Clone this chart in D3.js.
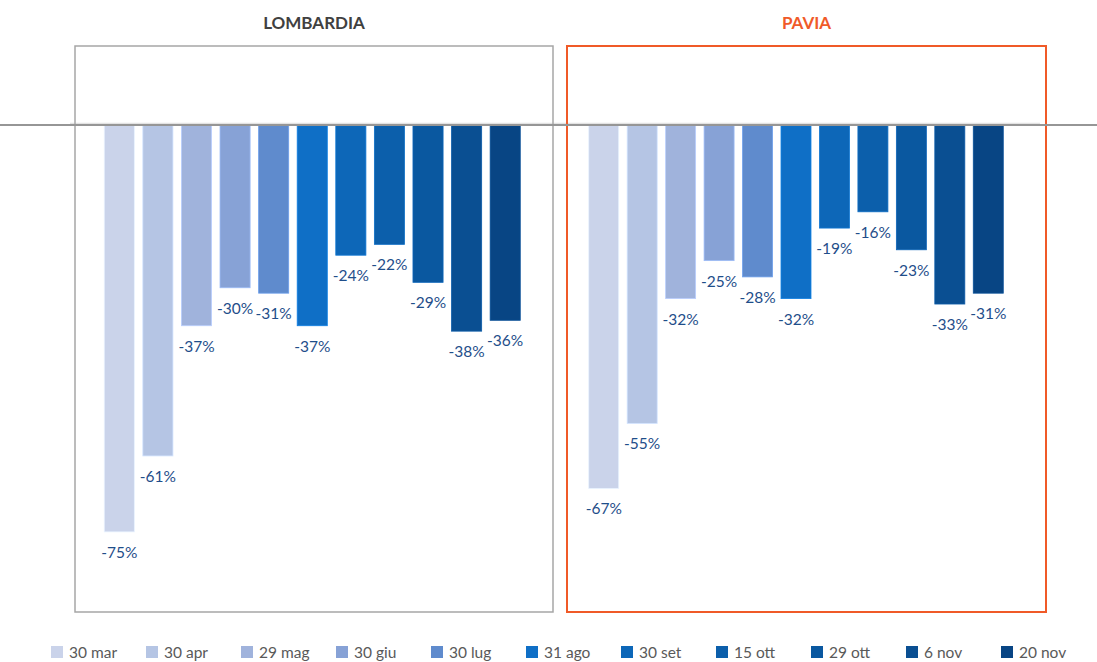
<!DOCTYPE html>
<html>
<head>
<meta charset="utf-8">
<script src="https://cdn.jsdelivr.net/npm/d3@7"></script>
<style>
  html, body { margin: 0; padding: 0; background: #fff; }
  svg { display: block; font-family: 'Source Sans Pro', Lato, 'Noto Sans', sans-serif; }
</style>
</head>
<body>
<svg class="canvas" width="1097" height="662"></svg>
<script>
'use strict'

const dates = ['30 mar', '30 apr', '29 mag', '30 giu', '30 lug', '31 ago', '30 set', '15 ott', '29 ott', '6 nov', '20 nov']
const colors = ['#cad3ea', '#b5c5e4', '#a0b3dc', '#87a2d6', '#5f8bcd', '#0f6fc6', '#0d67b8', '#0c5fab', '#0a58a0', '#0a4f92', '#084584']
const regions = ['LOMBARDIA', 'PAVIA']
const lombardia = [-75, -61, -37, -30, -31, -37, -24, -22, -29, -38, -36]
const pavia = [-67, -55, -32, -25, -28, -32, -19, -16, -23, -33, -31]

const width = 1097,
  height = 662,
  zeroY = 125

const svg = d3.select('.canvas')

const yScale = d3.scaleLinear().domain([0, -80]).range([zeroY, zeroY + 434])

const panels = [
  { name: regions[0], values: lombardia, frame: [75, 553], bars: [100, 524.5], stroke: '#a6a6a6', strokeWidth: 1.5, titleColor: '#404040' },
  { name: regions[1], values: pavia, frame: [567, 1046], bars: [584.5, 1007.5], stroke: '#f05a28', strokeWidth: 2, titleColor: '#f05a28' },
]

// faint plot-area line just above the axis
svg.append('line')
  .attr('x1', 70).attr('x2', 1040)
  .attr('y1', zeroY - 1.5).attr('y2', zeroY - 1.5)
  .attr('stroke', '#e3e3e3').attr('stroke-width', 1.5)

panels.forEach(panel => {
  const g = svg.append('g')

  // Frame.
  g.append('rect')
    .attr('x', panel.frame[0])
    .attr('y', 46)
    .attr('width', panel.frame[1] - panel.frame[0])
    .attr('height', 566)
    .attr('fill', 'none')
    .attr('stroke', panel.stroke)
    .attr('stroke-width', panel.strokeWidth)

  // Title.
  g.append('text')
    .attr('x', (panel.frame[0] + panel.frame[1]) / 2)
    .attr('y', 29)
    .attr('text-anchor', 'middle')
    .attr('font-size', 17)
    .attr('font-weight', 700)
    .attr('fill', panel.titleColor)
    .text(panel.name)

  const xScale = d3.scaleBand()
    .domain(dates)
    .range(panel.bars)
    .paddingInner(0.22)
    .paddingOuter(0.11)

  const data = dates.map((d, i) => ({ date: d, value: panel.values[i], color: colors[i] }))

  // Bars.
  g.selectAll('rect.bar')
    .data(data)
    .enter()
    .append('rect')
    .attr('class', 'bar')
    .attr('x', d => xScale(d.date))
    .attr('y', yScale(0))
    .attr('width', xScale.bandwidth())
    .attr('height', d => yScale(d.value) - yScale(0))
    .attr('fill', d => d.color)
    .attr('stroke', d => d3.color(d.color).brighter(0.4))
    .attr('stroke-width', 0.8)

  // Value labels.
  g.selectAll('text.label')
    .data(data)
    .enter()
    .append('text')
    .attr('class', 'label')
    .attr('x', d => xScale(d.date) + xScale.bandwidth() / 2)
    .attr('y', d => yScale(d.value) + 26)
    .attr('text-anchor', 'middle')
    .attr('font-size', 15.5)
    .attr('fill', '#1f4e8a')
    .text(d => `${d.value}%`)
})

// Axis line.
svg.append('line')
  .attr('x1', 0).attr('x2', width)
  .attr('y1', zeroY).attr('y2', zeroY)
  .attr('stroke', '#969696').attr('stroke-width', 2)

// Legend.
const legendScale = d3.scalePoint().domain(dates).range([51, 1001])
const legend = svg.selectAll('g.legend')
  .data(dates)
  .enter()
  .append('g')
  .attr('class', 'legend')
  .attr('transform', d => `translate(${legendScale(d)}, 646)`)
legend.append('rect')
  .attr('width', 12).attr('height', 12)
  .attr('fill', (d, i) => colors[i])
legend.append('text')
  .attr('x', 18).attr('y', 11.5)
  .attr('font-size', 15.5)
  .attr('fill', '#595959')
  .text(d => d)
</script>
</body>
</html>
